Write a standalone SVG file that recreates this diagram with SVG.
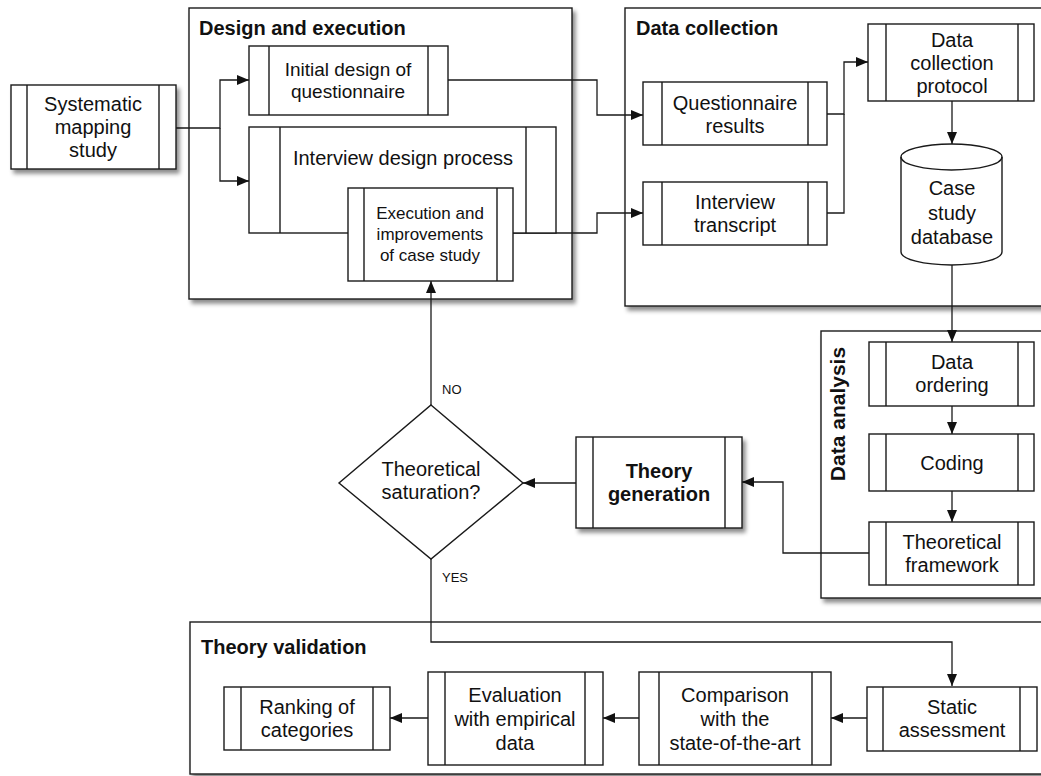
<svg xmlns="http://www.w3.org/2000/svg" width="1041" height="776" viewBox="0 0 1041 776">
  <style>
    .box { fill: #ffffff; stroke: #1a1a1a; stroke-width: 1.4; }
    .bar { fill: none; stroke: #1a1a1a; stroke-width: 1.4; }
    .wire { fill: none; stroke: #1a1a1a; stroke-width: 1.3; }
    .t { font-family: "Liberation Sans", Arial, sans-serif; font-size: 20px; fill: #111; text-anchor: middle; }
    .ts { font-size: 17px; }
    .tm { font-size: 19px; }
    .title { font-family: "Liberation Sans", Arial, sans-serif; font-size: 20px; font-weight: bold; fill: #111; }
    .bold { font-weight: bold; }
    .lbl { font-family: "Liberation Sans", Arial, sans-serif; font-size: 13px; fill: #111; }
  </style>
  <defs>
    <filter id="shadow" x="-10%" y="-10%" width="130%" height="130%">
      <feDropShadow dx="3" dy="4" stdDeviation="2" flood-color="#000" flood-opacity="0.45"/>
    </filter>
    <marker id="arrow" viewBox="0 0 12 10" refX="12" refY="5" markerWidth="12" markerHeight="10" markerUnits="userSpaceOnUse" orient="auto">
      <path d="M0,0 L12,5 L0,10 z" fill="#111"/>
    </marker>
  </defs>

  <!-- swimlane containers -->
  <g id="lane-design">
    <rect class="box" x="189" y="8" width="383" height="291" filter="url(#shadow)"/>
    <text class="title" x="199" y="35">Design and execution</text>
  </g>
  <g id="lane-collection">
    <rect class="box" x="625" y="8" width="430" height="298" filter="url(#shadow)"/>
    <text class="title" x="636" y="35">Data collection</text>
  </g>
  <g id="lane-analysis">
    <rect class="box" x="821" y="331" width="234" height="267" filter="url(#shadow)"/>
    <text class="title" transform="translate(845,414) rotate(-90)" text-anchor="middle" style="font-size:21px">Data analysis</text>
  </g>
  <g id="lane-validation">
    <rect class="box" x="190" y="622" width="865" height="152" filter="url(#shadow)"/>
    <text class="title" x="201" y="654">Theory validation</text>
  </g>

  <!-- connectors -->
  <g id="connectors">
    <path class="wire" d="M176,128 H220 V80 H249" marker-end="url(#arrow)"/>
    <path class="wire" d="M220,128 V181 H249" marker-end="url(#arrow)"/>
    <path class="wire" d="M448,80 H597 V115 H643" marker-end="url(#arrow)"/>
    <path class="wire" d="M513,233 H597 V213 H643" marker-end="url(#arrow)"/>
    <path class="wire" d="M827,114 H844 V62 H868" marker-end="url(#arrow)"/>
    <path class="wire" d="M827,213 H844 V114"/>
    <path class="wire" d="M952,101 V144" marker-end="url(#arrow)"/>
    <path class="wire" d="M952,265 V342" marker-end="url(#arrow)"/>
    <path class="wire" d="M952,406 V434" marker-end="url(#arrow)"/>
    <path class="wire" d="M952,491 V522" marker-end="url(#arrow)"/>
    <path class="wire" d="M869,553 H783 V482 H742" marker-end="url(#arrow)"/>
    <path class="wire" d="M576,483 H523" marker-end="url(#arrow)"/>
    <path class="wire" d="M431,405 V281" marker-end="url(#arrow)"/>
    <path class="wire" d="M431,559 V642 H952 V686" marker-end="url(#arrow)"/>
    <path class="wire" d="M867,718 H831" marker-end="url(#arrow)"/>
    <path class="wire" d="M639,718 H603" marker-end="url(#arrow)"/>
    <path class="wire" d="M428,718 H390" marker-end="url(#arrow)"/>
    <text class="lbl" x="442" y="394">NO</text>
    <text class="lbl" x="442" y="582">YES</text>
  </g>

  <!-- nodes -->
  <g id="systematic-mapping">
    <rect class="box" x="11" y="85" width="165" height="84" filter="url(#shadow)"/>
    <path class="bar" d="M27,85 V169 M159,85 V169"/>
    <text class="t" x="93" y="111">Systematic</text>
    <text class="t" x="93" y="134">mapping</text>
    <text class="t" x="93" y="157">study</text>
  </g>

  <g id="initial-design">
    <rect class="box" x="249" y="46" width="199" height="69"/>
    <path class="bar" d="M269,46 V115 M428,46 V115"/>
    <text class="t tm" x="348" y="76">Initial design of</text>
    <text class="t tm" x="348" y="98">questionnaire</text>
  </g>

  <g id="interview-design">
    <rect class="box" x="249" y="127" width="307" height="106"/>
    <path class="bar" d="M280,127 V233 M526,127 V233"/>
    <text class="t" x="403" y="165">Interview design process</text>
  </g>

  <g id="execution">
    <rect class="box" x="348" y="188" width="165" height="93"/>
    <path class="bar" d="M364,188 V281 M497,188 V281"/>
    <text class="t ts" x="430" y="219">Execution and</text>
    <text class="t ts" x="430" y="240">improvements</text>
    <text class="t ts" x="430" y="261">of case study</text>
  </g>

  <g id="questionnaire-results">
    <rect class="box" x="643" y="82" width="184" height="63"/>
    <path class="bar" d="M662,82 V145 M808,82 V145"/>
    <text class="t" x="735" y="110">Questionnaire</text>
    <text class="t" x="735" y="133">results</text>
  </g>

  <g id="interview-transcript">
    <rect class="box" x="643" y="182" width="184" height="63"/>
    <path class="bar" d="M662,182 V245 M808,182 V245"/>
    <text class="t" x="735" y="209">Interview</text>
    <text class="t" x="735" y="232">transcript</text>
  </g>

  <g id="collection-protocol">
    <rect class="box" x="868" y="24" width="166" height="77"/>
    <path class="bar" d="M886,24 V101 M1018,24 V101"/>
    <text class="t" x="952" y="47">Data</text>
    <text class="t" x="952" y="70">collection</text>
    <text class="t" x="952" y="93">protocol</text>
  </g>

  <g id="case-study-database">
    <path class="box" d="M901,157 V252 A50.5,13 0 0 0 1002,252 V157 A50.5,13 0 0 0 901,157 Z"/>
    <path class="bar" d="M901,157 A50.5,13 0 0 0 1002,157"/>
    <text class="t" x="952" y="195">Case</text>
    <text class="t" x="952" y="220">study</text>
    <text class="t" x="952" y="244">database</text>
  </g>

  <g id="data-ordering">
    <rect class="box" x="869" y="342" width="165" height="64"/>
    <path class="bar" d="M886,342 V406 M1018,342 V406"/>
    <text class="t" x="952" y="369">Data</text>
    <text class="t" x="952" y="392">ordering</text>
  </g>

  <g id="coding">
    <rect class="box" x="869" y="434" width="165" height="57"/>
    <path class="bar" d="M886,434 V491 M1018,434 V491"/>
    <text class="t" x="952" y="470">Coding</text>
  </g>

  <g id="theoretical-framework">
    <rect class="box" x="869" y="522" width="165" height="63"/>
    <path class="bar" d="M886,522 V585 M1018,522 V585"/>
    <text class="t" x="952" y="549">Theoretical</text>
    <text class="t" x="952" y="572">framework</text>
  </g>

  <g id="theory-generation">
    <rect class="box" x="576" y="437" width="166" height="91" filter="url(#shadow)"/>
    <path class="bar" d="M593,437 V528 M725,437 V528"/>
    <text class="t bold" x="659" y="478">Theory</text>
    <text class="t bold" x="659" y="501">generation</text>
  </g>

  <g id="saturation-decision">
    <path class="box" d="M431,405 L523,483 L431,559 L339,483 Z"/>
    <text class="t" x="431" y="476">Theoretical</text>
    <text class="t" x="431" y="499">saturation?</text>
  </g>

  <g id="ranking">
    <rect class="box" x="224" y="687" width="166" height="63"/>
    <path class="bar" d="M241,687 V750 M373,687 V750"/>
    <text class="t" x="307" y="714">Ranking of</text>
    <text class="t" x="307" y="737">categories</text>
  </g>

  <g id="evaluation">
    <rect class="box" x="428" y="672" width="175" height="93"/>
    <path class="bar" d="M445,672 V765 M585,672 V765"/>
    <text class="t" x="515" y="702">Evaluation</text>
    <text class="t" x="515" y="726">with empirical</text>
    <text class="t" x="515" y="750">data</text>
  </g>

  <g id="comparison">
    <rect class="box" x="639" y="672" width="192" height="93"/>
    <path class="bar" d="M659,672 V765 M812,672 V765"/>
    <text class="t" x="735" y="702">Comparison</text>
    <text class="t" x="735" y="726">with the</text>
    <text class="t" x="735" y="750">state-of-the-art</text>
  </g>

  <g id="static-assessment">
    <rect class="box" x="867" y="687" width="170" height="64"/>
    <path class="bar" d="M883,687 V751 M1020,687 V751"/>
    <text class="t" x="952" y="714">Static</text>
    <text class="t" x="952" y="737">assessment</text>
  </g>
</svg>
